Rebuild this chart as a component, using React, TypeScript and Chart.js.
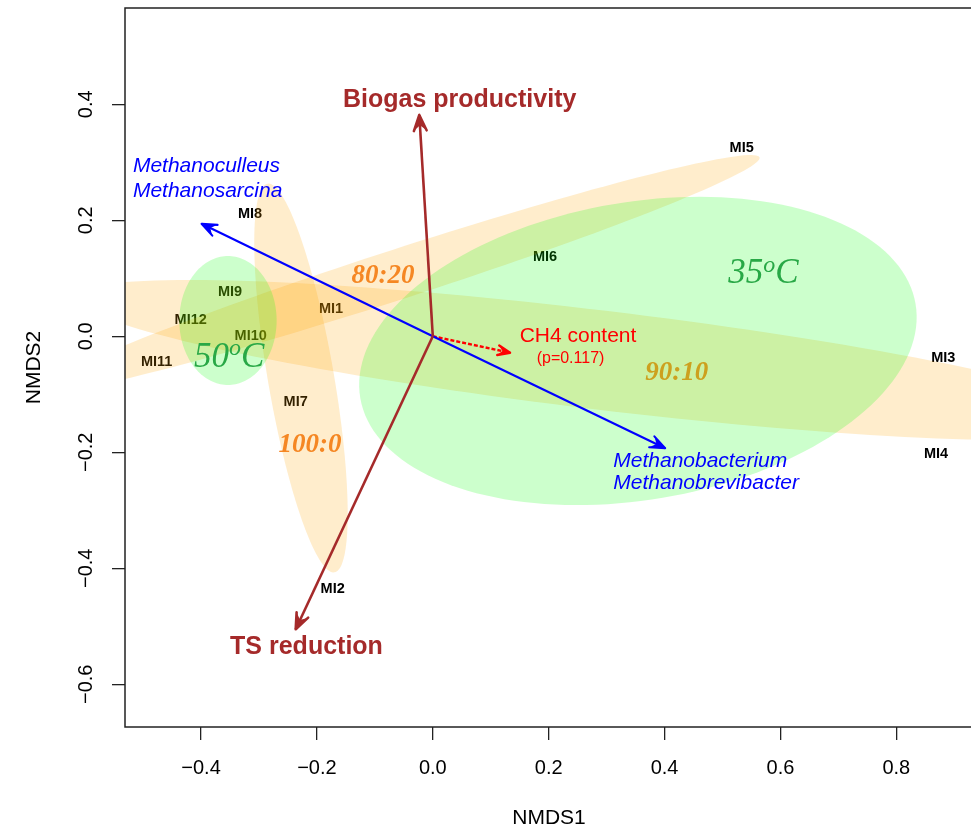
import React, { useEffect, useRef } from 'react';
import { Chart, registerables } from 'chart.js';

Chart.register(...registerables);

const SANS = '"Liberation Sans", Arial, Helvetica, sans-serif';
const SERIF = '"Liberation Serif", "Times New Roman", Times, serif';

// ---- axes ----
const X_MIN = -0.5312;
const X_MAX = 0.9323;
const Y_MIN = -0.6736;
const Y_MAX = 0.566;
const X_TICKS = [-0.4, -0.2, 0, 0.2, 0.4, 0.6, 0.8];
const X_TICK_LABELS = ['\u22120.4', '\u22120.2', '0.0', '0.2', '0.4', '0.6', '0.8'];
const Y_TICKS = [-0.6, -0.4, -0.2, 0, 0.2, 0.4];
const Y_TICK_LABELS = ['\u22120.6', '\u22120.4', '\u22120.2', '0.0', '0.2', '0.4'];

// ---- sample scores (NMDS1, NMDS2) ----
const SAMPLE_LABELS = ['MI1', 'MI2', 'MI3', 'MI4', 'MI5', 'MI6', 'MI7', 'MI8', 'MI9', 'MI10', 'MI11', 'MI12'];
const SAMPLE_X = [-0.1757, -0.1728, 0.8811, 0.8685, 0.5331, 0.1936, -0.2366, -0.3155, -0.35, -0.3143, -0.4765, -0.4178];
const SAMPLE_Y = [0.0471, -0.4357, -0.0374, -0.2034, 0.3252, 0.1367, -0.1138, 0.2114, 0.0759, 0.001, -0.0448, 0.0281];

// ---- fitted vectors ----
const VECTOR_NAMES = ['Biogas productivity', 'TS reduction', 'Methanoculleus / Methanosarcina', 'Methanobacterium / Methanobrevibacter', 'CH4 content'];
const VECTOR_X = [-0.0233, -0.2366, -0.399, 0.401, 0.1333];
const VECTOR_Y = [0.3816, -0.505, 0.194, -0.193, -0.0283];

// ---- group ellipses ----
const ELLIPSE_NAMES = ['80:20', '90:10', '100:0', '50\u00b0C', '35\u00b0C'];
const ELLIPSE_CX = [-0.0566, 0.2886, -0.2275, -0.3535, 0.354];
const ELLIPSE_CY = [0.108, -0.0409, -0.0719, 0.0272, -0.0253];
const ELLIPSE_A = [0.652, 0.914, 0.34, 0.1112, 0.486];
const ELLIPSE_B = [0.043, 0.0854, 0.057, 0.084, 0.2567];
const ELLIPSE_ANGLE = [17.9, -6.84, 99.8, 90, 9.6];

// ---- styles ----
const BROWN = '#A52A2A';
const BLUE = '#0000FF';
const RED = '#FF0000';
const ORANGE_FILL = 'rgba(255,165,0,0.2)';
const GREEN_FILL = 'rgba(0,255,0,0.2)';
const ELLIPSE_FILLS = [ORANGE_FILL, ORANGE_FILL, ORANGE_FILL, GREEN_FILL, GREEN_FILL];
const VECTOR_STYLE = [
  { color: BROWN, width: 2.6, dash: [] as number[], head: 17 },
  { color: BROWN, width: 2.6, dash: [] as number[], head: 17 },
  { color: BLUE, width: 2.1, dash: [] as number[], head: 16 },
  { color: BLUE, width: 2.1, dash: [] as number[], head: 16 },
  { color: RED, width: 2.4, dash: [4, 2], head: 13 },
];

// ---- text annotations (data coordinates) ----
const VECTOR_TEXT = [
  { text: 'Biogas productivity', x: 0.0464, y: 0.3959, align: 'center', font: `bold 25px ${SANS}`, color: BROWN },
  { text: 'TS reduction', x: -0.218, y: -0.5478, align: 'center', font: `bold 25px ${SANS}`, color: BROWN },
  { text: 'Methanoculleus', x: -0.5175, y: 0.2828, align: 'left', font: `italic 21px ${SANS}`, color: BLUE },
  { text: 'Methanosarcina', x: -0.5175, y: 0.2397, align: 'left', font: `italic 21px ${SANS}`, color: BLUE },
  { text: 'Methanobacterium', x: 0.3115, y: -0.2248, align: 'left', font: `italic 21px ${SANS}`, color: BLUE },
  { text: 'Methanobrevibacter', x: 0.3115, y: -0.2641, align: 'left', font: `italic 21px ${SANS}`, color: BLUE },
  { text: 'CH4 content', x: 0.2506, y: -0.0103, align: 'center', font: `21px ${SANS}`, color: RED },
  { text: '(p=0.117)', x: 0.2377, y: -0.0455, align: 'center', font: `16px ${SANS}`, color: RED },
];

const GROUP_TEXT = [
  { text: '80:20', x: -0.086, y: 0.0914, color: 'rgb(245,135,35)' },
  { text: '100:0', x: -0.212, y: -0.199, color: 'rgb(245,135,35)' },
  { text: '90:10', x: 0.421, y: -0.0753, color: 'rgb(205,160,30)' },
];

const TEMP_TEXT = [
  { base: '50', sup: 'o', tail: 'C', x: -0.3515, y: -0.0524 },
  { base: '35', sup: 'o', tail: 'C', x: 0.5704, y: 0.0914 },
];
const TEMP_COLOR = 'rgb(40,168,70)';

function toPx(chart: any, x: number, y: number): [number, number] {
  return [chart.scales.x.getPixelForValue(x), chart.scales.y.getPixelForValue(y)];
}

function ellipsePath(chart: any, ctx: CanvasRenderingContext2D, i: number) {
  const ang = (ELLIPSE_ANGLE[i] * Math.PI) / 180;
  const ca = Math.cos(ang);
  const sa = Math.sin(ang);
  const n = 160;
  ctx.beginPath();
  for (let k = 0; k <= n; k++) {
    const t = (k / n) * Math.PI * 2;
    const dx = ELLIPSE_A[i] * Math.cos(t);
    const dy = ELLIPSE_B[i] * Math.sin(t);
    const [X, Y] = toPx(chart, ELLIPSE_CX[i] + dx * ca - dy * sa, ELLIPSE_CY[i] + dx * sa + dy * ca);
    if (k === 0) ctx.moveTo(X, Y);
    else ctx.lineTo(X, Y);
  }
  ctx.closePath();
}

function arrowHead(ctx: CanvasRenderingContext2D, x0: number, y0: number, x1: number, y1: number, len: number, color: string, lw: number) {
  const ang = Math.atan2(y1 - y0, x1 - x0);
  const ha = (22 * Math.PI) / 180;
  const w1x = x1 - len * Math.cos(ang - ha);
  const w1y = y1 - len * Math.sin(ang - ha);
  const w2x = x1 - len * Math.cos(ang + ha);
  const w2y = y1 - len * Math.sin(ang + ha);
  const nx = x1 - len * 0.6 * Math.cos(ang);
  const ny = y1 - len * 0.6 * Math.sin(ang);
  ctx.save();
  ctx.strokeStyle = color;
  ctx.fillStyle = color;
  ctx.lineWidth = lw;
  ctx.setLineDash([]);
  ctx.lineJoin = 'round';
  ctx.lineCap = 'round';
  ctx.beginPath();
  ctx.moveTo(x1, y1);
  ctx.lineTo(w1x, w1y);
  ctx.lineTo(nx, ny);
  ctx.lineTo(w2x, w2y);
  ctx.closePath();
  ctx.fill();
  ctx.beginPath();
  ctx.moveTo(w1x, w1y);
  ctx.lineTo(x1, y1);
  ctx.lineTo(w2x, w2y);
  ctx.stroke();
  ctx.restore();
}

const overlayPlugin = {
  id: 'nmdsOverlay',
  beforeDatasetsDraw(chart: any) {
    const ctx: CanvasRenderingContext2D = chart.ctx;
    const area = chart.chartArea;
    ctx.save();
    ctx.beginPath();
    ctx.rect(area.left, area.top, area.right - area.left, area.bottom - area.top);
    ctx.clip();
    // sample labels (drawn beneath the translucent ellipses)
    const meta = chart.getDatasetMeta(0);
    ctx.font = `bold 14.5px ${SANS}`;
    ctx.fillStyle = '#000';
    ctx.textAlign = 'center';
    ctx.textBaseline = 'middle';
    meta.data.forEach((pt: any, i: number) => {
      ctx.fillText(SAMPLE_LABELS[i], pt.x, pt.y);
    });
    // ellipses
    for (let i = 0; i < ELLIPSE_NAMES.length; i++) {
      ellipsePath(chart, ctx, i);
      ctx.fillStyle = ELLIPSE_FILLS[i];
      ctx.fill();
    }
    ctx.restore();
  },
  afterDatasetsDraw(chart: any) {
    const ctx: CanvasRenderingContext2D = chart.ctx;
    const area = chart.chartArea;
    ctx.save();
    ctx.beginPath();
    ctx.rect(area.left, area.top, area.right - area.left, area.bottom - area.top);
    ctx.clip();
    // arrow heads
    for (let i = 0; i < VECTOR_NAMES.length; i++) {
      const meta = chart.getDatasetMeta(i + 1);
      const p0 = meta.data[0];
      const p1 = meta.data[1];
      const st = VECTOR_STYLE[i];
      arrowHead(ctx, p0.x, p0.y, p1.x, p1.y, st.head, st.color, st.width);
    }
    // vector labels
    ctx.textBaseline = 'alphabetic';
    VECTOR_TEXT.forEach((t) => {
      const [X, Y] = toPx(chart, t.x, t.y);
      ctx.font = t.font;
      ctx.fillStyle = t.color;
      ctx.textAlign = t.align as CanvasTextAlign;
      ctx.fillText(t.text, X, Y);
    });
    // group labels
    ctx.textAlign = 'center';
    GROUP_TEXT.forEach((t) => {
      const [X, Y] = toPx(chart, t.x, t.y);
      ctx.font = `italic bold 27px ${SERIF}`;
      ctx.fillStyle = t.color;
      ctx.fillText(t.text, X, Y);
    });
    // temperature labels with superscript
    const big = `italic 35px ${SERIF}`;
    const small = `italic 24px ${SERIF}`;
    TEMP_TEXT.forEach((t) => {
      const [X, Y] = toPx(chart, t.x, t.y);
      ctx.font = big;
      const w1 = ctx.measureText(t.base).width;
      const w3 = ctx.measureText(t.tail).width;
      ctx.font = small;
      const w2 = ctx.measureText(t.sup).width;
      let cx = X - (w1 + w2 + w3) / 2;
      ctx.textAlign = 'left';
      ctx.fillStyle = TEMP_COLOR;
      ctx.font = big;
      ctx.fillText(t.base, cx, Y);
      cx += w1;
      ctx.font = small;
      ctx.fillText(t.sup, cx, Y - 11.5);
      cx += w2;
      ctx.font = big;
      ctx.fillText(t.tail, cx, Y);
    });
    ctx.restore();
    // plot box
    ctx.save();
    ctx.strokeStyle = '#222';
    ctx.lineWidth = 1.5;
    ctx.strokeRect(area.left, area.top, area.right - area.left, area.bottom - area.top);
    ctx.restore();
  },
};

export default function App() {
  const ref = useRef<HTMLCanvasElement>(null);
  useEffect(() => {
    const canvas = ref.current;
    if (!canvas) return;
    const datasets: any[] = [
      {
        type: 'scatter',
        label: 'samples',
        data: SAMPLE_X.map((x, i) => ({ x, y: SAMPLE_Y[i] })),
        pointRadius: 0,
        showLine: false,
      },
    ];
    VECTOR_NAMES.forEach((name, i) => {
      datasets.push({
        type: 'line',
        label: name,
        data: [
          { x: 0, y: 0 },
          { x: VECTOR_X[i], y: VECTOR_Y[i] },
        ],
        borderColor: VECTOR_STYLE[i].color,
        borderWidth: VECTOR_STYLE[i].width,
        borderDash: VECTOR_STYLE[i].dash,
        pointRadius: 0,
        fill: false,
        tension: 0,
      });
    });
    const tickFont = { family: SANS, size: 20 };
    const chart = new Chart(canvas, {
      type: 'scatter',
      data: { datasets },
      options: {
        animation: false,
        responsive: false,
        devicePixelRatio: 1,
        events: [],
        layout: { padding: { top: 8, right: 17, left: 0, bottom: 0 } },
        plugins: { legend: { display: false }, tooltip: { enabled: false } },
        scales: {
          x: {
            type: 'linear',
            position: 'bottom',
            min: X_MIN,
            max: X_MAX,
            afterBuildTicks: (s: any) => {
              s.ticks = X_TICKS.map((v) => ({ value: v }));
            },
            afterFit: (s: any) => {
              s.height = 102;
              s.paddingLeft = 0;
              s.paddingRight = 0;
              s.paddingTop = 0;
              s.paddingBottom = 0;
            },
            ticks: {
              autoSkip: false,
              maxRotation: 0,
              minRotation: 0,
              padding: 16,
              color: '#000',
              font: tickFont,
              callback: (_v: any, i: number) => X_TICK_LABELS[i],
            },
            grid: { display: true, drawOnChartArea: false, drawTicks: true, tickLength: 13, color: '#222', lineWidth: 1.3 },
            border: { display: false },
            title: {
              display: true,
              text: 'NMDS1',
              color: '#000',
              font: { family: SANS, size: 21, lineHeight: 1.0 },
              padding: { top: 0, bottom: 0 },
            },
          },
          y: {
            type: 'linear',
            position: 'left',
            min: Y_MIN,
            max: Y_MAX,
            afterBuildTicks: (s: any) => {
              s.ticks = Y_TICKS.map((v) => ({ value: v }));
            },
            afterFit: (s: any) => {
              s.width = 125;
              s.paddingLeft = 0;
              s.paddingRight = 0;
              s.paddingTop = 0;
              s.paddingBottom = 0;
            },
            ticks: {
              autoSkip: false,
              minRotation: 90,
              maxRotation: 90,
              crossAlign: 'center',
              padding: 6,
              color: '#000',
              font: tickFont,
              callback: (_v: any, i: number) => Y_TICK_LABELS[i],
            },
            grid: { display: true, drawOnChartArea: false, drawTicks: true, tickLength: 13, color: '#222', lineWidth: 1.3 },
            border: { display: false },
            title: {
              display: true,
              text: 'NMDS2',
              color: '#000',
              font: { family: SANS, size: 21 },
              padding: { top: 22, bottom: 0 },
            },
          },
        },
      } as any,
      plugins: [overlayPlugin],
    });
    return () => chart.destroy();
  }, []);
  return (
    <div style={{ position: 'fixed', left: 0, top: 0, width: 971, height: 829, overflow: 'hidden', background: '#fff' }}>
      <canvas ref={ref} width={990} height={829} style={{ display: 'block' }} />
    </div>
  );
}
